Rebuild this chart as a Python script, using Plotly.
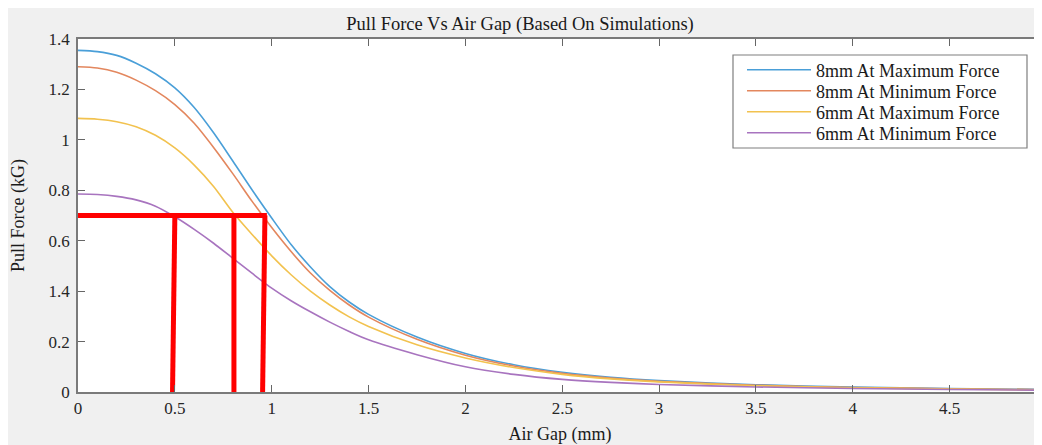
import plotly.graph_objects as go

# ---------------- data ----------------
air_gap = [0, 0.1, 0.2, 0.3, 0.4, 0.5, 0.6, 0.7, 0.8, 0.9, 1.0, 1.1, 1.2, 1.3, 1.4,
           1.5, 1.75, 2.0, 2.25, 2.5, 2.75, 3.0, 3.5, 4.0, 4.5, 5.0]

force_8mm_max = [1.355, 1.350, 1.335, 1.304, 1.262, 1.206, 1.128, 1.028, 0.915, 0.800,
                 0.690, 0.585, 0.496, 0.418, 0.357, 0.308, 0.218, 0.153, 0.108, 0.078,
                 0.058, 0.045, 0.029, 0.020, 0.014, 0.010]
force_8mm_min = [1.290, 1.285, 1.268, 1.237, 1.195, 1.140, 1.066, 0.970, 0.865, 0.755,
                 0.652, 0.557, 0.472, 0.403, 0.345, 0.297, 0.209, 0.146, 0.103, 0.074,
                 0.055, 0.042, 0.027, 0.018, 0.013, 0.009]
force_6mm_max = [1.085, 1.082, 1.072, 1.052, 1.018, 0.968, 0.900, 0.815, 0.712, 0.624,
                 0.540, 0.465, 0.400, 0.345, 0.298, 0.260, 0.187, 0.135, 0.097, 0.070,
                 0.052, 0.040, 0.025, 0.017, 0.012, 0.008]
force_6mm_min = [0.785, 0.783, 0.776, 0.762, 0.737, 0.695, 0.645, 0.590, 0.530, 0.470,
                 0.412, 0.362, 0.318, 0.277, 0.240, 0.207, 0.148, 0.100, 0.070, 0.050,
                 0.038, 0.030, 0.020, 0.014, 0.010, 0.007]

series_names = ["8mm At Maximum Force", "8mm At Minimum Force",
                "6mm At Maximum Force", "6mm At Minimum Force"]

# red guide lines (operating point 0.7 kG)
guide_x = [0, 0.975, None, 0.500, 0.488, None, 0.805, 0.805, None, 0.965, 0.953]
guide_y = [0.7, 0.7, None, 0.7, 0.0, None, 0.7, 0.0, None, 0.7, 0.0]

x_tickvals = [0, 0.5, 1, 1.5, 2, 2.5, 3, 3.5, 4, 4.5]
x_ticktext = ["0", "0.5", "1", "1.5", "2", "2.5", "3", "3.5", "4", "4.5"]
y_tickvals = [0, 0.2, 0.4, 0.6, 0.8, 1.0, 1.2, 1.4]
y_ticktext = ["0", "0.2", "1.4", "0.6", "0.8", "1", "1.2", "1.4"]

# ---------------- figure ----------------
FONT = "Liberation Serif, Times New Roman, serif"
colors = ["#4a9fd8", "#e3875e", "#f2c24f", "#a874bf"]

# page is offset by the 8px body margin
OFF = 8
L, R, T, B = 70, 0, 31, 53
W, H = 1034, 437
pw, ph = W - L - R, H - T - B
X_SCALE = 193.7  # px per mm in reference

def px_x(p):  # page pixel -> paper x
    return (p - OFF - L) / pw

def px_y(p):  # page pixel -> paper y
    return (H - B - (p - OFF)) / ph

legend_ids = ["legend", "legend2", "legend3", "legend4"]
legend_rows = [70, 91, 112, 133]

fig = go.Figure()
for name, ys, c, lg in zip(series_names,
                           [force_8mm_max, force_8mm_min, force_6mm_max, force_6mm_min],
                           colors, legend_ids):
    fig.add_trace(go.Scatter(x=air_gap, y=ys, mode="lines", name=name, legend=lg,
                             line=dict(color=c, width=1.6, shape="spline", smoothing=0.8)))

fig.add_trace(go.Scatter(x=guide_x, y=guide_y, mode="lines", showlegend=False,
                         line=dict(color="#ff0000", width=5), connectgaps=False,
                         hoverinfo="skip"))

legend_layout = {}
for lg, row in zip(legend_ids, legend_rows):
    legend_layout[lg] = dict(
        x=px_x(742), y=px_y(row), xanchor="left", yanchor="middle",
        bgcolor="rgba(0,0,0,0)", borderwidth=0,
        font=dict(family=FONT, size=18, color="#1a1a1a"),
        itemwidth=64)

fig.update_layout(
    width=W, height=H, autosize=False,
    margin=dict(l=L, r=R, t=T, b=B, pad=0),
    paper_bgcolor="#f0f0f0", plot_bgcolor="white",
    font=dict(family=FONT, size=17, color="#262626"),
    title=dict(text="Pull Force Vs Air Gap (Based On Simulations)",
               x=(520 - OFF) / W, xanchor="center", xref="container",
               y=1 - (24 - OFF) / H, yanchor="middle", yref="container",
               font=dict(family=FONT, size=18.5, color="#1a1a1a")),
    showlegend=True,
    shapes=[dict(type="rect", xref="paper", yref="paper", layer="above",
                 x0=px_x(733), x1=px_x(1027), y0=px_y(148), y1=px_y(55),
                 fillcolor="white", line=dict(color="#7f7f7f", width=1.2))],
    **legend_layout,
)

fig.update_xaxes(
    automargin=False,
    range=[0, pw / X_SCALE], tickvals=x_tickvals, ticktext=x_ticktext,
    showgrid=False, zeroline=False,
    showline=True, linecolor="#7a7a7a", linewidth=1.5, mirror="ticks",
    ticks="inside", ticklen=7, tickwidth=1.2, tickcolor="#666666",
    tickfont=dict(family=FONT, size=17, color="#262626"),
    ticklabelstandoff=0,
    title=dict(text="Air Gap (mm)", font=dict(family=FONT, size=18, color="#1a1a1a"),
               standoff=14),
)
fig.update_yaxes(
    automargin=False,
    range=[0, 1.4], tickvals=y_tickvals, ticktext=y_ticktext,
    showgrid=False, zeroline=False,
    showline=True, linecolor="#7a7a7a", linewidth=1.5, mirror="ticks",
    ticks="inside", ticklen=7, tickwidth=1.2, tickcolor="#666666",
    tickfont=dict(family=FONT, size=17, color="#262626"),
    ticklabelstandoff=3,
    title=dict(text="Pull Force (kG)", font=dict(family=FONT, size=18, color="#1a1a1a"),
               standoff=21),
)

fig.write_html("out.html")
